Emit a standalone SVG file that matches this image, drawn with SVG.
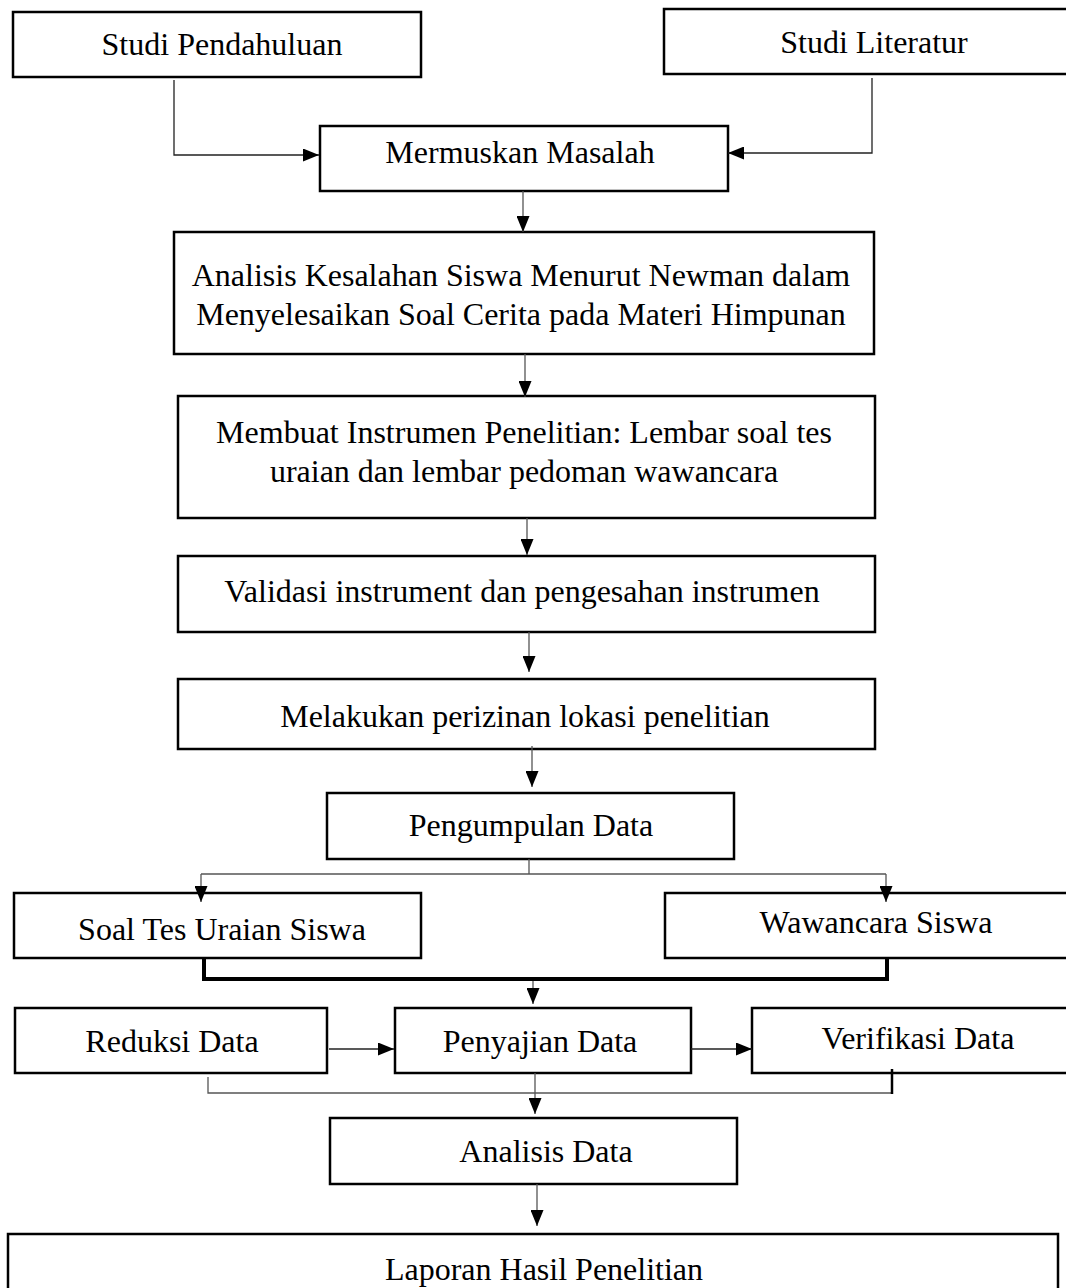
<svg xmlns="http://www.w3.org/2000/svg" width="1066" height="1288" viewBox="0 0 1066 1288">
<style>
.box{fill:#fff;stroke:#000;stroke-width:2.5}
.t{font-family:"Liberation Serif","Times New Roman",serif;font-size:32px;fill:#000;text-anchor:middle}
.c{fill:none;stroke:#555;stroke-width:1.3}
.cd{fill:none;stroke:#222;stroke-width:1.3}
.thick{fill:none;stroke:#000;stroke-width:4}
</style>
<defs>
<marker id="ah" viewBox="0 0 16 13" refX="16" refY="6.5" markerWidth="16" markerHeight="13" markerUnits="userSpaceOnUse" orient="auto">
<path d="M0,0 L16,6.5 L0,13 z" fill="#000"/>
</marker>
</defs>
<rect width="1066" height="1288" fill="#fff"/>
<g id="nodes">
<g id="studi-pendahuluan"><rect class="box" x="13" y="12" width="408" height="65"/><text class="t" x="222" y="55">Studi Pendahuluan</text></g>
<g id="studi-literatur"><rect class="box" x="664" y="9" width="410" height="65"/><text class="t" x="874" y="53">Studi Literatur</text></g>
<g id="mermuskan"><rect class="box" x="320" y="126" width="408" height="65"/><text class="t" x="520" y="163">Mermuskan Masalah</text></g>
<g id="analisis-kesalahan"><rect class="box" x="174" y="232" width="700" height="122"/><text class="t" x="521" y="286">Analisis Kesalahan Siswa Menurut Newman dalam</text><text class="t" x="521" y="325">Menyelesaikan Soal Cerita pada Materi Himpunan</text></g>
<g id="membuat-instrumen"><rect class="box" x="178" y="396" width="697" height="122"/><text class="t" x="524" y="443">Membuat Instrumen Penelitian: Lembar soal tes</text><text class="t" x="524" y="482">uraian dan lembar pedoman wawancara</text></g>
<g id="validasi"><rect class="box" x="178" y="556" width="697" height="76"/><text class="t" x="522" y="602">Validasi instrument dan pengesahan instrumen</text></g>
<g id="perizinan"><rect class="box" x="178" y="679" width="697" height="70"/><text class="t" x="525" y="727">Melakukan perizinan lokasi penelitian</text></g>
<g id="pengumpulan"><rect class="box" x="327" y="793" width="407" height="66"/><text class="t" x="531" y="836">Pengumpulan Data</text></g>
<g id="soal-tes"><rect class="box" x="14" y="893" width="407" height="65"/><text class="t" x="222" y="940">Soal Tes Uraian Siswa</text></g>
<g id="wawancara"><rect class="box" x="665" y="893" width="410" height="65"/><text class="t" x="876" y="933">Wawancara Siswa</text></g>
<g id="reduksi"><rect class="box" x="15" y="1008" width="312" height="65"/><text class="t" x="172" y="1052">Reduksi Data</text></g>
<g id="penyajian"><rect class="box" x="395" y="1008" width="296" height="65"/><text class="t" x="540" y="1052">Penyajian Data</text></g>
<g id="verifikasi"><rect class="box" x="752" y="1008" width="320" height="65"/><text class="t" x="918" y="1049">Verifikasi Data</text></g>
<g id="analisis-data"><rect class="box" x="330" y="1118" width="407" height="66"/><text class="t" x="546" y="1162">Analisis Data</text></g>
<g id="laporan"><rect class="box" x="8" y="1234" width="1050" height="70"/><text class="t" x="544" y="1280">Laporan Hasil Penelitian</text></g>
</g>
<g id="connectors">
<path class="cd" d="M174,80 V155 H319" marker-end="url(#ah)"/>
<path class="cd" d="M872,78 V153 H728" marker-end="url(#ah)"/>
<path class="c" d="M523,191 V232" marker-end="url(#ah)"/>
<path class="c" d="M525,354 V397" marker-end="url(#ah)"/>
<path class="c" d="M527,518 V555" marker-end="url(#ah)"/>
<path class="c" d="M529,632 V672" marker-end="url(#ah)"/>
<path class="c" d="M532,746 V787" marker-end="url(#ah)"/>
<path class="c" d="M529,859 V874"/>
<path class="c" d="M201,874 H886"/>
<path class="c" d="M201,874 V902" marker-end="url(#ah)"/>
<path class="c" d="M886,874 V902" marker-end="url(#ah)"/>
<path class="thick" d="M204,958 V979 H887 V958"/>
<path class="c" d="M533,981 V1004" marker-end="url(#ah)"/>
<path class="cd" d="M329,1049 H394" marker-end="url(#ah)"/>
<path class="cd" d="M691,1049 H752" marker-end="url(#ah)"/>
<path class="c" d="M208,1077 V1093 H892"/>
<path fill="none" stroke="#000" stroke-width="2.5" d="M892,1069 V1094"/>
<path class="c" d="M535,1073 V1114" marker-end="url(#ah)"/>
<path class="c" d="M537,1184 V1226" marker-end="url(#ah)"/>
</g>
</svg>
